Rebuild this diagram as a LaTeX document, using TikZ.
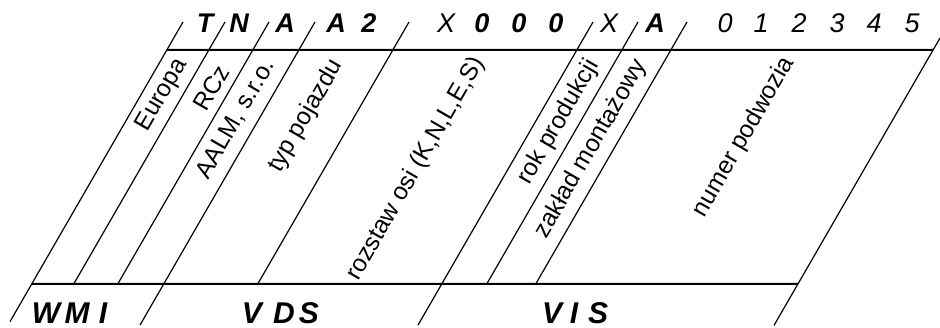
\documentclass[tikz,border=0pt]{standalone}
\usepackage{fontspec}
\setmainfont{Liberation Sans}
\usetikzlibrary{calc}
\begin{document}
\begin{tikzpicture}[x=1pt,y=1pt,
  slant/.style={line width=1.2pt},
  rule/.style={line width=2pt},
  lbl/.style={rotate=60,inner sep=0pt,font=\fontsize{24.5}{24.5}\selectfont},
  topb/.style={anchor=base,inner sep=0pt,font=\fontsize{27}{27}\selectfont\bfseries\itshape},
  topr/.style={anchor=base,inner sep=0pt,font=\fontsize{27}{27}\selectfont\itshape},
  botb/.style={anchor=base,inner sep=0pt,font=\fontsize{30}{30}\selectfont\bfseries\itshape}]
\useasboundingbox (0,0) rectangle (940,328);
% top ends of slanted lines
\foreach \n/\x in {1/183,2/225,3/269,4/315,5/409,6/593,7/638,8/687}{
  \coordinate (t\n) at (\x,306);
  \coordinate (b\n) at ($(t\n)+(240:302.5)$);
  \coordinate (e\n) at ($(t\n)+(240:350)$);
}
\coordinate (t9) at (940,290);
\coordinate (r9) at (933,278);
\coordinate (b9) at ($(r9)+(240:270.2)$);
\coordinate (e9) at ($(r9)+(240:318)$);
\coordinate (tl) at ($(t1)+(240:32.3)$);
\coordinate (e1) at ($(t1)+(240:346)$);
% horizontal rules
\draw[rule] (tl) -- (r9);
\draw[rule] (b1) -- (b9);
% slanted lines
\draw[slant] (t1) -- (e1);
\draw[slant] (t2) -- (b2);
\draw[slant] (t3) -- (b3);
\draw[slant] (t4) -- (e4);
\draw[slant] (t5) -- (b5);
\draw[slant] (t6) -- (e6);
\draw[slant] (t7) -- (b7);
\draw[slant] (t8) -- (b8);
\draw[slant] (t9) -- (e9);
% rotated labels
\node[lbl] (l1) at (162,233) {Europa};
\node[lbl] (l2) at (211,240) {RCz};
\node[lbl] (l3) at (236,209) {AALM, s.r.o.};
\node[lbl] (l4) at (306,212) {typ pojazdu};
\node[lbl] (l5) at (416,159) {rozstaw osi (K,N,L,E,S)};
\node[lbl] (l6) at (559,206) {rok produkcji};
\node[lbl] (l7) at (591,179) {zakład montażowy};
\node[lbl] (l8) at (744,191) {numer podwozia};
% top characters
\foreach \i/\x/\c in {1/205/T,2/239/N,3/285/A,4/336/A,5/369/2,6/482/0,7/519/0,8/556/0,9/655/A}{
  \node[topb] (cb\i) at (\x,295) {\c};
}
\foreach \i/\x/\c in {1/446/X,2/609/X,3/725/0,4/761/1,5/799/2,6/837/3,7/874/4,8/912/5}{
  \node[topr] (cr\i) at (\x,295) {\c};
}
% bottom characters
\foreach \i/\x/\c in {1/46/W,2/77/M,3/103/I,4/252/V,5/284/D,6/309/S,7/552/V,8/574/I,9/598/S}{
  \node[botb] (bc\i) at (\x,4) {\c};
}
\end{tikzpicture}
\end{document}
